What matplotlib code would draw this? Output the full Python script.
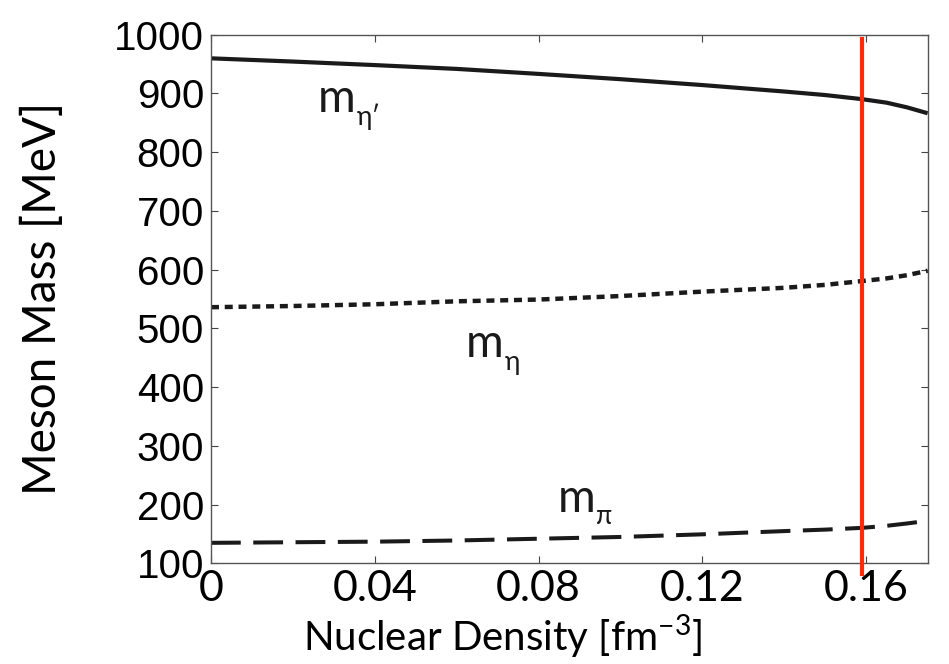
import matplotlib
matplotlib.use("Agg")
import matplotlib.pyplot as plt

# density points [fm^-3]
density = [0.0, 0.02, 0.04, 0.06, 0.08, 0.10, 0.12, 0.14, 0.15, 0.159, 0.165, 0.170, 0.175]
# meson masses [MeV]
m_eta_prime = [959.5, 954, 948, 941.5, 933, 924, 914, 903, 897, 890, 884, 876, 866]
m_eta = [536, 538, 541, 546, 549, 555, 562.5, 569, 574, 580.5, 585, 590.5, 598]
m_pi = [135, 136, 137, 139, 142, 145, 149.5, 155, 157.5, 160.5, 164, 168, 172.5]

rho_0 = 0.159  # normal nuclear density (red line)

xticks = [0, 0.04, 0.08, 0.12, 0.16]
xtick_labels = ["0", "0.04", "0.08", "0.12", "0.16"]
yticks = [100, 200, 300, 400, 500, 600, 700, 800, 900, 1000]

label_font = ["Lato", "DejaVu Sans"]

fig = plt.figure(figsize=(9.49, 6.64), dpi=100)
ax = fig.add_axes([0.2223, 0.1515, 0.7552, 0.7965])

ax.plot(density, m_eta_prime, color="#1a1a1a", lw=3.0, solid_capstyle="butt")
ax.plot(density, m_eta, color="#1a1a1a", lw=3.2, dashes=(1.8, 1.3))
ax.plot(density, m_pi, color="#1a1a1a", lw=2.9, dashes=(7.4, 3.1))

ax.plot([rho_0, rho_0], [992, 82], color="#ff2a0a", lw=3.0, clip_on=False, zorder=5)

ax.set_xlim(0, 0.175)
ax.set_ylim(100, 1000)
ax.set_xticks(xticks)
ax.set_xticklabels(xtick_labels, family=label_font, fontsize=31)
ax.set_yticks(yticks)
ax.set_yticklabels([str(v) for v in yticks], family="Liberation Sans", fontsize=29)

ax.tick_params(direction="in", length=5, width=0.8, top=True, right=True, color="#444444")
ax.tick_params(axis="y", pad=5)
ax.tick_params(axis="x", pad=5)
for sp in ax.spines.values():
    sp.set_color("#555555")
    sp.set_linewidth(1.0)

ax.set_xlabel("Nuclear Density [fm$^{\\mathregular{-3}}$]", family=label_font, fontsize=29)
ax.xaxis.set_label_coords(0.407, -0.093, transform=ax.transAxes)
ax.set_ylabel("Meson Mass [MeV]", family=label_font, fontsize=33)
ax.yaxis.set_label_coords(-0.205, 0.5, transform=ax.transAxes)

# curve labels: "m" with a Greek subscript
labels = [
    (0.0261, 868, "η′"),
    (0.0623, 451, "η"),
    (0.0846, 187.5, "π"),
]
for x, y, sub in labels:
    ax.text(x, y, "m", family=label_font, fontsize=33, color="#1a1a1a", va="baseline", ha="left")
    ax.annotate(sub, (x, y), xytext=(28, -9), textcoords="offset points",
                family=label_font, fontsize=19, color="#1a1a1a", va="baseline", ha="left")

fig.savefig("out.png", dpi=100)
